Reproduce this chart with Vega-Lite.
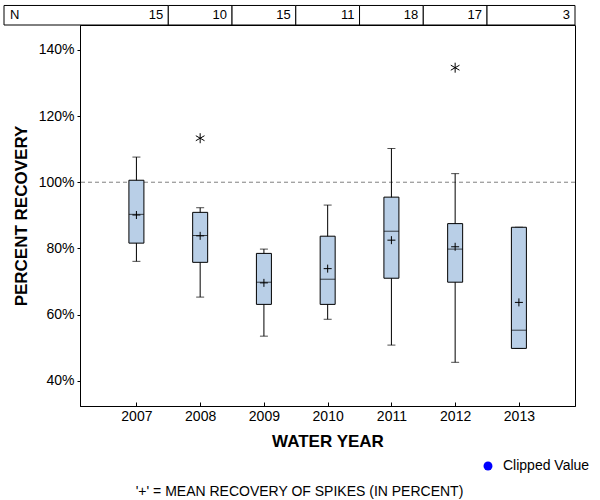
{
  "$schema": "https://vega.github.io/schema/vega-lite/v6.json",
  "width": 495,
  "height": 381,
  "autosize": {"type": "none"},
  "padding": {"left": 80, "top": 25, "right": 25, "bottom": 94},
  "config": {
    "font": "Liberation Sans",
    "view": {"stroke": "black", "strokeWidth": 1},
    "axis": {"domainColor": "black", "tickColor": "black", "labelColor": "black", "titleColor": "black", "grid": false, "labelFont": "Liberation Sans", "titleFont": "Liberation Sans", "labelFontSize": 14, "titleFontSize": 17, "titleFontWeight": "bold"},
    "axisX": {"tickSize": -4, "labelPadding": 7, "titlePadding": 10, "labelFlush": false},
    "axisY": {"tickSize": 3, "labelPadding": 3, "titlePadding": 8}
  },
  "title": {"text": "'+' = MEAN RECOVERY OF SPIKES (IN PERCENT)", "orient": "bottom", "anchor": "middle", "fontSize": 14, "fontWeight": "normal", "color": "black", "font": "Liberation Sans", "offset": 12, "dx": -28},
  "datasets": {
    "boxes": [
      {"year": 2007, "min": 76.1, "q1": 81.6, "median": 90.3, "q3": 100.6, "max": 107.6, "mean": 90.1},
      {"year": 2008, "min": 65.3, "q1": 75.8, "median": 83.9, "q3": 90.9, "max": 92.3, "mean": 83.8},
      {"year": 2009, "min": 53.5, "q1": 63.1, "median": 69.8, "q3": 78.5, "max": 79.8, "mean": 69.6},
      {"year": 2010, "min": 58.6, "q1": 63.1, "median": 70.7, "q3": 83.7, "max": 93.1, "mean": 73.9},
      {"year": 2011, "min": 50.8, "q1": 71.0, "median": 85.2, "q3": 95.5, "max": 110.2, "mean": 82.5},
      {"year": 2012, "min": 45.6, "q1": 69.8, "median": 79.8, "q3": 87.5, "max": 102.6, "mean": 80.5},
      {"year": 2013, "min": 49.8, "q1": 49.8, "median": 55.3, "q3": 86.4, "max": 86.4, "mean": 63.7}
    ],
    "outliers": [
      {"year": 2008, "value": 113.3},
      {"year": 2012, "value": 134.6}
    ],
    "counts": [
      {"year": 2007, "n": 15},
      {"year": 2008, "n": 10},
      {"year": 2009, "n": 15},
      {"year": 2010, "n": 11},
      {"year": 2011, "n": 18},
      {"year": 2012, "n": 17},
      {"year": 2013, "n": 3}
    ]
  },
  "layer": [
    {
      "data": {"values": [{}]},
      "mark": {"type": "rule", "stroke": "#808080", "strokeDash": [4, 3], "strokeWidth": 1},
      "encoding": {
        "y": {"datum": 100, "type": "quantitative", "title": "PERCENT RECOVERY", "scale": {"domain": [32.4, 147.5], "nice": false, "zero": false, "padding": 0}}
      }
    },
    {
      "data": {"name": "boxes"},
      "mark": {"type": "rule", "color": "black", "strokeWidth": 1},
      "encoding": {
        "x": {"field": "year", "type": "quantitative", "title": "WATER YEAR", "scale": {"domain": [2006.115, 2013.88], "nice": false, "zero": false, "padding": 0},
          "axis": {"values": [2007, 2008, 2009, 2010, 2011, 2012, 2013], "format": "d"}},
        "y": {"field": "min", "type": "quantitative", "title": "PERCENT RECOVERY", "scale": {"domain": [32.4, 147.5], "nice": false, "zero": false, "padding": 0},
          "axis": {"values": [40, 60, 80, 100, 120, 140], "labelExpr": "datum.value + '%'"}},
        "y2": {"field": "max"}
      }
    },
    {
      "data": {"name": "boxes"},
      "mark": {"type": "tick", "orient": "horizontal", "color": "black", "size": 8, "thickness": 1},
      "encoding": {
        "x": {"field": "year", "type": "quantitative", "title": "WATER YEAR", "scale": {"domain": [2006.115, 2013.88], "nice": false, "zero": false, "padding": 0}},
        "y": {"field": "min", "type": "quantitative", "title": "PERCENT RECOVERY", "scale": {"domain": [32.4, 147.5], "nice": false, "zero": false, "padding": 0}}
      }
    },
    {
      "data": {"name": "boxes"},
      "mark": {"type": "tick", "orient": "horizontal", "color": "black", "size": 8, "thickness": 1},
      "encoding": {
        "x": {"field": "year", "type": "quantitative", "title": "WATER YEAR", "scale": {"domain": [2006.115, 2013.88], "nice": false, "zero": false, "padding": 0}},
        "y": {"field": "max", "type": "quantitative", "title": "PERCENT RECOVERY", "scale": {"domain": [32.4, 147.5], "nice": false, "zero": false, "padding": 0}}
      }
    },
    {
      "data": {"name": "boxes"},
      "mark": {"type": "bar", "width": 15, "fill": "#b9cfe7", "stroke": "black", "strokeWidth": 1},
      "encoding": {
        "x": {"field": "year", "type": "quantitative", "title": "WATER YEAR", "scale": {"domain": [2006.115, 2013.88], "nice": false, "zero": false, "padding": 0}},
        "y": {"field": "q1", "type": "quantitative", "title": "PERCENT RECOVERY", "scale": {"domain": [32.4, 147.5], "nice": false, "zero": false, "padding": 0}},
        "y2": {"field": "q3"}
      }
    },
    {
      "data": {"name": "boxes"},
      "mark": {"type": "tick", "orient": "horizontal", "color": "black", "size": 15, "thickness": 1},
      "encoding": {
        "x": {"field": "year", "type": "quantitative", "title": "WATER YEAR", "scale": {"domain": [2006.115, 2013.88], "nice": false, "zero": false, "padding": 0}},
        "y": {"field": "median", "type": "quantitative", "title": "PERCENT RECOVERY", "scale": {"domain": [32.4, 147.5], "nice": false, "zero": false, "padding": 0}}
      }
    },
    {
      "data": {"name": "boxes"},
      "mark": {"type": "point", "shape": "M-1,0L1,0M0,-1L0,1", "size": 64, "filled": false, "stroke": "black", "strokeWidth": 1, "opacity": 1},
      "encoding": {
        "x": {"field": "year", "type": "quantitative", "title": "WATER YEAR", "scale": {"domain": [2006.115, 2013.88], "nice": false, "zero": false, "padding": 0}},
        "y": {"field": "mean", "type": "quantitative", "title": "PERCENT RECOVERY", "scale": {"domain": [32.4, 147.5], "nice": false, "zero": false, "padding": 0}}
      }
    },
    {
      "data": {"name": "outliers"},
      "mark": {"type": "point", "shape": "M0,-1L0,1M-0.87,-0.5L0.87,0.5M-0.87,0.5L0.87,-0.5", "size": 100, "filled": false, "stroke": "black", "strokeWidth": 1, "opacity": 1},
      "encoding": {
        "x": {"field": "year", "type": "quantitative", "title": "WATER YEAR", "scale": {"domain": [2006.115, 2013.88], "nice": false, "zero": false, "padding": 0}},
        "y": {"field": "value", "type": "quantitative", "title": "PERCENT RECOVERY", "scale": {"domain": [32.4, 147.5], "nice": false, "zero": false, "padding": 0}}
      }
    },
    {
      "data": {"name": "counts"},
      "transform": [
        {"calculate": "datum.year == 2007 ? 2004.923 : datum.year - 0.5", "as": "lo"},
        {"calculate": "datum.year == 2013 ? 2013.88 : datum.year + 0.5", "as": "hi"}
      ],
      "mark": {"type": "rect", "fill": "white", "stroke": "black", "strokeWidth": 1, "clip": false},
      "encoding": {
        "x": {"field": "lo", "type": "quantitative", "title": "WATER YEAR", "scale": {"domain": [2006.115, 2013.88], "nice": false, "zero": false, "padding": 0}},
        "x2": {"field": "hi"},
        "y": {"datum": 147.5, "type": "quantitative", "title": "PERCENT RECOVERY", "scale": {"domain": [32.4, 147.5], "nice": false, "zero": false, "padding": 0}},
        "y2": {"datum": 153.4}
      }
    },
    {
      "data": {"name": "counts"},
      "transform": [
        {"calculate": "datum.year == 2013 ? 2013.88 : datum.year + 0.5", "as": "hi"}
      ],
      "mark": {"type": "text", "align": "right", "baseline": "middle", "dx": -5, "fontSize": 13, "color": "black", "font": "Liberation Sans"},
      "encoding": {
        "x": {"field": "hi", "type": "quantitative", "title": "WATER YEAR", "scale": {"domain": [2006.115, 2013.88], "nice": false, "zero": false, "padding": 0}},
        "y": {"datum": 150.45, "type": "quantitative", "title": "PERCENT RECOVERY", "scale": {"domain": [32.4, 147.5], "nice": false, "zero": false, "padding": 0}},
        "text": {"field": "n", "type": "quantitative"}
      }
    },
    {
      "data": {"values": [{"label": "N"}]},
      "mark": {"type": "text", "align": "left", "baseline": "middle", "dx": 6, "fontSize": 13, "color": "black", "font": "Liberation Sans"},
      "encoding": {
        "x": {"datum": 2004.923, "type": "quantitative", "title": "WATER YEAR", "scale": {"domain": [2006.115, 2013.88], "nice": false, "zero": false, "padding": 0}},
        "y": {"datum": 150.45, "type": "quantitative", "title": "PERCENT RECOVERY", "scale": {"domain": [32.4, 147.5], "nice": false, "zero": false, "padding": 0}},
        "text": {"field": "label", "type": "nominal"}
      }
    },
    {
      "data": {"values": []},
      "mark": {"type": "point", "filled": true, "size": 80, "shape": "circle"},
      "encoding": {
        "color": {"field": "kind", "type": "nominal", "scale": {"domain": ["Clipped Value"], "range": ["#0000ff"]},
          "legend": {"title": null, "orient": "none", "legendX": 401, "legendY": 434, "labelFontSize": 14, "labelColor": "black", "labelFont": "Liberation Sans", "labelOffset": 8, "symbolSize": 80, "symbolType": "circle", "symbolOpacity": 1, "symbolStrokeWidth": 0}}
      }
    }
  ]
}
